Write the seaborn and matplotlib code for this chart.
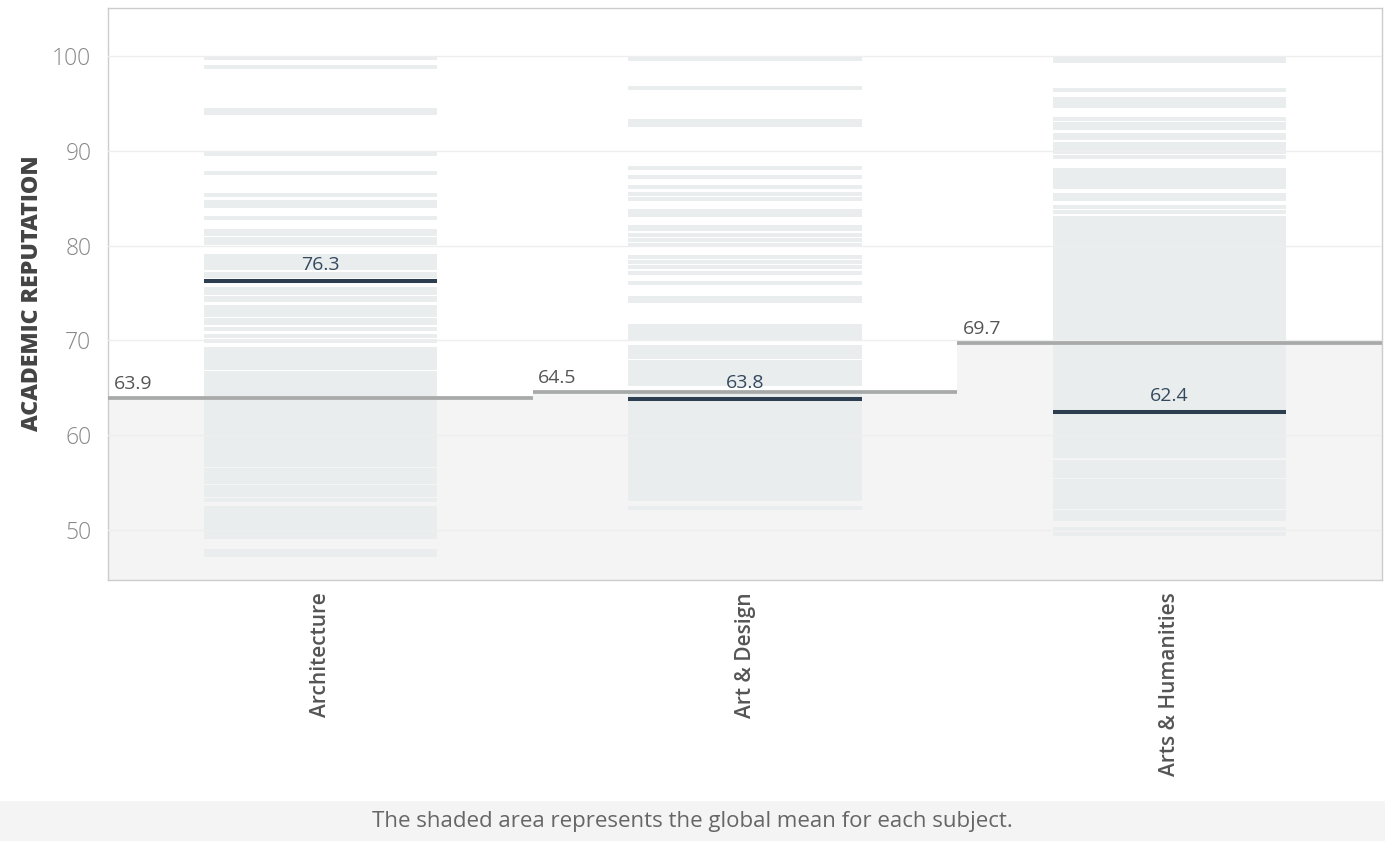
import matplotlib
matplotlib.use("Agg")
import matplotlib.pyplot as plt
import seaborn as sns
import pandas as pd
from matplotlib.patches import Rectangle

# ---------------- data ----------------
subjects = ["Architecture", "Art & Design", "Arts & Humanities"]
global_means = [63.9, 64.5, 69.7]
subject_means = [76.3, 63.8, 62.4]

arch_scores = [
    99.8, 98.9, 94.3, 94.0, 89.7, 87.7, 85.4, 84.6, 84.2, 82.9, 81.6, 81.2, 80.7, 80.3,
    78.9, 78.5, 78.1, 77.6, 77.0, 76.8, 75.4, 75.0, 74.5, 74.3,
    73.5, 73.1, 72.7, 72.2, 71.8, 71.2, 70.5, 69.9,
    69.1, 68.7, 68.3, 67.9, 67.5, 67.1,
    66.6, 66.3, 65.9, 65.6, 65.2, 64.8, 64.4, 64.1, 63.7, 63.3, 62.9, 62.5, 62.2,
    61.8, 61.4, 61.0, 60.6, 60.3, 59.9, 59.5, 59.1, 58.7, 58.4, 58.0, 57.6, 57.2, 56.8,
    56.3, 55.9, 55.5, 55.0,
    54.5, 54.1, 53.7, 53.1,
    52.3, 51.9, 51.5, 51.1, 50.7, 50.3, 49.9, 49.5, 49.2,
    47.8, 47.3,
]
art_scores = [
    99.7, 96.7, 93.2, 92.7, 88.2, 87.3, 86.2, 85.5, 84.9, 83.7, 83.2, 82.0, 81.8, 81.1,
    80.6, 80.1, 78.8, 78.3, 77.7, 77.1, 76.1, 74.5, 74.2,
    71.5, 71.1, 70.7, 70.3,
    69.3, 68.9, 68.5, 68.2,
    67.7, 67.3, 66.9, 66.5, 66.1, 65.7, 65.4,
    64.5, 64.1, 63.8, 63.4, 63.0, 62.6, 62.2, 61.8, 61.4, 61.0, 60.6, 60.2, 59.8, 59.4,
    59.0, 58.6, 58.2, 57.8, 57.4, 57.0, 56.6, 56.2, 55.8, 55.4, 55.0, 54.6, 54.2, 53.8,
    53.5, 53.2,
    52.3,
]
hum_scores = [
    99.7, 99.5, 96.4, 95.5, 95.1, 94.7, 93.4, 92.9, 92.4, 91.7, 91.4,
    90.7, 90.3, 89.9, 89.4,
    88.0, 87.6, 87.2, 86.8, 86.4, 86.2,
    85.4, 84.9, 84.1, 83.6,
    82.9, 82.5, 82.1, 81.8, 81.4, 81.0, 80.6, 80.2, 79.9, 79.5, 79.1, 78.7, 78.3, 78.0,
    77.6, 77.2, 76.8, 76.4, 76.1, 75.7, 75.3, 74.9, 74.5, 74.2, 73.8, 73.4, 73.0, 72.6,
    72.3, 71.9, 71.5, 71.1, 70.7, 70.4, 70.0, 69.6, 69.2, 68.8, 68.5, 68.1, 67.7, 67.3,
    66.9, 66.6, 66.2, 65.8, 65.4, 65.0, 64.7, 64.3, 63.9, 63.5, 63.1, 62.8, 62.4, 62.0,
    61.6, 61.2, 60.9, 60.5, 60.1, 59.7, 59.3, 59.0, 58.6, 58.2, 57.8,
    57.2, 56.8, 56.4, 56.0, 55.7,
    55.2, 54.8, 54.4, 54.0, 53.6, 53.2, 52.8, 52.4,
    51.9, 51.5, 51.1,
    50.1, 49.6,
]
y_ticks = [50, 60, 70, 80, 90, 100]
y_label = "ACADEMIC REPUTATION"
caption = "The shaded area represents the global mean for each subject."

# ---------------- style ----------------
sns.set_style("white")
plt.rcParams["font.family"] = ["Open Sans", "DejaVu Sans"]

fig = plt.figure(figsize=(13.85, 8.41), dpi=100)
ax = fig.add_axes([108 / 1385, 261 / 841, 1274 / 1385, 572 / 841])

# shaded global mean per subject
shade_df = pd.DataFrame({"subject": subjects, "mean": global_means})
sns.barplot(data=shade_df, x="subject", y="mean", width=1.0, color="#f4f4f4",
            saturation=1, linewidth=0, ax=ax, zorder=0.2)
for p in ax.patches:
    p.set_zorder(0.2)

# individual university strips
strip_h = 0.42
strip_w = 0.55
strip_color = "#e9eded"
for i, scores in enumerate([arch_scores, art_scores, hum_scores]):
    ax.bar([i] * len(scores), [strip_h] * len(scores),
           bottom=[s - strip_h / 2 for s in scores], width=strip_w,
           color=strip_color, linewidth=0, zorder=2)

# lines and labels
for i, (gm, m) in enumerate(zip(global_means, subject_means)):
    ax.hlines(gm, i - 0.5, i + 0.5, color="#a8aaaa", lw=2.7, zorder=3)
    ax.annotate(f"{gm}", xy=(i - 0.5, gm), xytext=(4, 4), textcoords="offset points",
                ha="left", va="bottom", fontsize=14, color="#555555", zorder=4)
    ax.hlines(m, i - strip_w / 2, i + strip_w / 2, color="#2c3e50", lw=2.9, zorder=4)
    ax.annotate(f"{m}", xy=(i, m), xytext=(0, 5), textcoords="offset points",
                ha="center", va="bottom", fontsize=14, color="#34495e", zorder=5)

# axes
ax.set_xlim(-0.5, 2.5)
ax.set_ylim(44.7, 105.1)
ax.set_yticks(y_ticks)
ax.set_yticklabels([str(t) for t in y_ticks], fontsize=16.5, color="#888888",
                   fontweight="light")
ax.set_xticks(range(len(subjects)))
ax.set_xticklabels(subjects, rotation=90, fontsize=15, color="#555555",
                   fontweight="semibold")
ax.set_xticks([-0.5, 0.5, 1.5, 2.5], minor=True)
ax.tick_params(axis="x", which="major", length=0, pad=9)
ax.tick_params(axis="x", which="minor", length=6, width=1, color="#e6e6e6")
ax.tick_params(axis="y", which="major", length=6, width=1, color="#eeeeee", pad=6)
ax.set_xlabel("")
ax.set_ylabel("")
ax.yaxis.grid(True, color="#eeeeee", lw=1, zorder=1)
ax.xaxis.grid(False)
ax.set_axisbelow(False)
for gl in ax.get_ygridlines():
    gl.set_zorder(1)
for sp in ax.spines.values():
    sp.set_visible(True)
    sp.set_color("#cccccc")
    sp.set_linewidth(1)

fig.text(32 / 1385, 1 - 293 / 841, y_label, rotation=90, ha="center", va="center",
         fontsize=16.7, fontweight="heavy", color="#444444")

# caption box
fig.patches.append(Rectangle((0, 0), 1, 40 / 841, transform=fig.transFigure,
                             facecolor="#f4f4f4", edgecolor="none", zorder=0))
fig.text(0.5, 19 / 841, caption, ha="center", va="center", fontsize=16,
         color="#666666")

fig.savefig("out.png", dpi=100)
